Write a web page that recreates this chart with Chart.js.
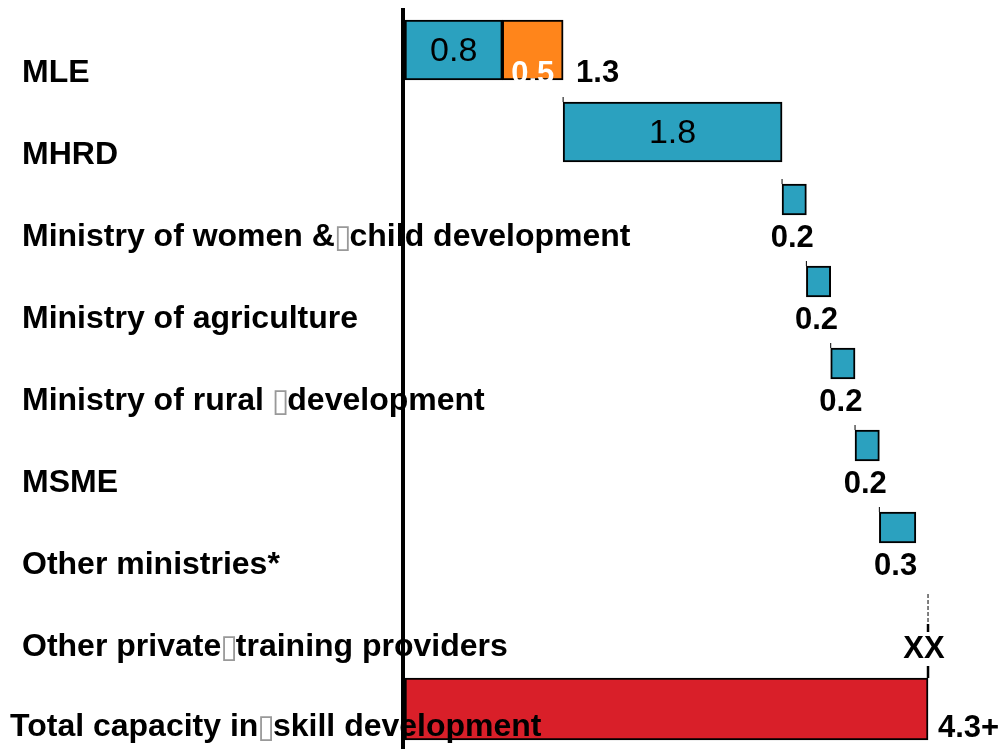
<!DOCTYPE html>
<html>
<head>
<meta charset="utf-8">
<script src="https://cdn.jsdelivr.net/npm/chart.js@4"></script>
<style>
html, body { margin: 0; padding: 0; background: #fff; }
#wrap { width: 1001px; height: 749px; }
</style>
</head>
<body>
<div id="wrap"><canvas id="waterfall"></canvas></div>
<script>
// rows, top to bottom
const categories = [
  "MLE",
  "MHRD",
  "Ministry of women &\u25AFchild development",
  "Ministry of agriculture",
  "Ministry of rural \u25AFdevelopment",
  "MSME",
  "Other ministries*",
  "Other private\u25AFtraining providers",
  "Total capacity in\u25AFskill development"
]

// MLE split into two parts
const mleParts = [0.8, 0.5]
// MHRD .. Other ministries
const ministryValues = [1.8, 0.2, 0.2, 0.2, 0.2, 0.3]
const privateLabel = "XX"
const totalValue = 4.3
const totalLabel = "4.3+"

const TEAL = "#2BA1BF"
const ORANGE = "#FF851B"
const RED = "#D91F29"
const BIG = 60
const SMALL = 31
const BOX = "\u25AF"

// cumulative floating ranges
let running = 0
const bigBars = categories.map(() => null)
const orangeBars = categories.map(() => null)
const smallBars = categories.map(() => null)
const totalBars = categories.map(() => null)

bigBars[0] = [running, running + mleParts[0]]; running += mleParts[0]
orangeBars[0] = [running, running + mleParts[1]]; running += mleParts[1]
const mleSum = running
ministryValues.forEach((v, i) => {
  const row = i + 1
  if (i === 0) bigBars[row] = [running, running + v]
  else smallBars[row] = [running, running + v]
  running += v
})
totalBars[8] = [0, totalValue]

const barStyle = {
  borderColor: "#000",
  borderWidth: 2,
  borderSkipped: false,
  grouped: false
}

const fontBold = size => "bold " + size + 'px "Liberation Sans", Arial, sans-serif'
const fontReg = size => size + 'px "Liberation Sans", Arial, sans-serif'

// small bars sit at the top of their row instead of the centre
const topAlign = {
  id: "topAlign",
  afterDatasetsUpdate(chart) {
    chart.getDatasetMeta(2).data.forEach(el => {
      el.y -= (BIG - SMALL) / 2
    })
    chart.getDatasetMeta(3).data.forEach(el => {
      el.y += 3
    })
  }
}

// label with the line-break glyph drawn thin and grey
function drawLabel(ctx, text, x, y) {
  const parts = text.split(BOX)
  parts.forEach((p, i) => {
    ctx.font = fontBold(32)
    ctx.fillStyle = "#000"
    ctx.fillText(p, x, y)
    x += ctx.measureText(p).width
    if (i < parts.length - 1) {
      ctx.font = '32px "DejaVu Sans", sans-serif'
      ctx.fillStyle = "#999"
      ctx.fillText(BOX, x - 1, y + 1)
      x += ctx.measureText(BOX).width - 3
    }
  })
}

const textLayer = {
  id: "textLayer",
  afterDatasetsDraw(chart) {
    const ctx = chart.ctx
    const xs = chart.scales.x
    const ys = chart.scales.y
    ctx.save()
    ctx.textBaseline = "alphabetic"

    // row labels
    ctx.textAlign = "left"
    categories.forEach((c, i) => {
      const last = i === categories.length - 1
      drawLabel(ctx, c, last ? 10 : 22, ys.getPixelForValue(i) + (last ? 30 : 32))
    })
    ctx.fillStyle = "#000"

    // connectors above each step bar
    ctx.strokeStyle = "#000"
    ctx.lineWidth = 1
    const steps = [chart.getDatasetMeta(0).data[1]].concat(chart.getDatasetMeta(2).data.filter((el, i) => smallBars[i]))
    steps.forEach(el => {
      const top = el.y - el.height / 2
      ctx.beginPath()
      ctx.moveTo(el.base, top - 5)
      ctx.lineTo(el.base, top)
      ctx.stroke()
    })

    // values inside the big teal bars
    const big = chart.getDatasetMeta(0).data
    ctx.font = fontReg(34)
    ctx.textAlign = "center"
    ;[0, 1].forEach(i => {
      const el = big[i]
      const v = i === 0 ? mleParts[0] : ministryValues[0]
      ctx.fillText(v.toFixed(1), (el.x + el.base) / 2, el.y + 11)
    })

    // orange part
    const org = chart.getDatasetMeta(1).data[0]
    ctx.font = fontBold(31)
    ctx.fillStyle = "#fff"
    ctx.fillText(mleParts[1].toFixed(1), (org.x + org.base) / 2, org.y + org.height / 2 + 3)
    ctx.fillStyle = "#000"
    ctx.textAlign = "left"
    ctx.fillText(mleSum.toFixed(1), org.x + 13, org.y + 32)

    // values under the small bars
    ctx.textAlign = "center"
    chart.getDatasetMeta(2).data.forEach((el, i) => {
      if (!smallBars[i]) return
      const v = smallBars[i][1] - smallBars[i][0]
      ctx.fillText(v.toFixed(1), (el.x + el.base) / 2 - 2, ys.getPixelForValue(i) + 33)
    })

    // private providers: unknown share
    const xt = xs.getPixelForValue(totalValue)
    const r7 = ys.getPixelForValue(7)
    ctx.fillText(privateLabel, xt - 4, r7 + 34)
    ctx.setLineDash([4, 2])
    ctx.beginPath()
    ctx.moveTo(xt, r7 - 30)
    ctx.lineTo(xt, r7 - 2)
    ctx.stroke()
    ctx.setLineDash([])
    ctx.lineWidth = 2.5
    ctx.beginPath()
    ctx.moveTo(xt, r7)
    ctx.lineTo(xt, r7 + 8)
    ctx.moveTo(xt, r7 + 42)
    ctx.lineTo(xt, r7 + 54)
    ctx.stroke()

    // total
    const tot = chart.getDatasetMeta(3).data[8]
    ctx.textAlign = "left"
    ctx.font = fontBold(31)
    ctx.fillText(totalLabel, tot.x + 10, tot.y + 28)
    ctx.restore()
  },
  afterDraw(chart) {
    const ctx = chart.ctx
    const left = chart.chartArea.left
    ctx.save()
    ctx.strokeStyle = "#000"
    ctx.lineWidth = 4
    ctx.beginPath()
    ctx.moveTo(left - 2, 8)
    ctx.lineTo(left - 2, chart.height)
    ctx.stroke()
    ctx.restore()
  }
}

new Chart(document.getElementById("waterfall"), {
  type: "bar",
  data: {
    labels: categories,
    datasets: [
      Object.assign({ data: bigBars, backgroundColor: TEAL, barThickness: BIG }, barStyle),
      Object.assign({ data: orangeBars, backgroundColor: ORANGE, barThickness: BIG }, barStyle),
      Object.assign({ data: smallBars, backgroundColor: TEAL, barThickness: SMALL }, barStyle),
      Object.assign({ data: totalBars, backgroundColor: RED, barThickness: 62 }, barStyle)
    ]
  },
  options: {
    indexAxis: "y",
    responsive: true,
    maintainAspectRatio: false,
    animation: false,
    layout: { padding: { left: 405, top: 9, right: 0, bottom: 2 } },
    plugins: { legend: { display: false }, tooltip: { enabled: false } },
    scales: {
      x: { display: false, min: 0, max: 4.9 },
      y: { display: false }
    }
  },
  plugins: [topAlign, textLayer]
})
</script>
</body>
</html>
